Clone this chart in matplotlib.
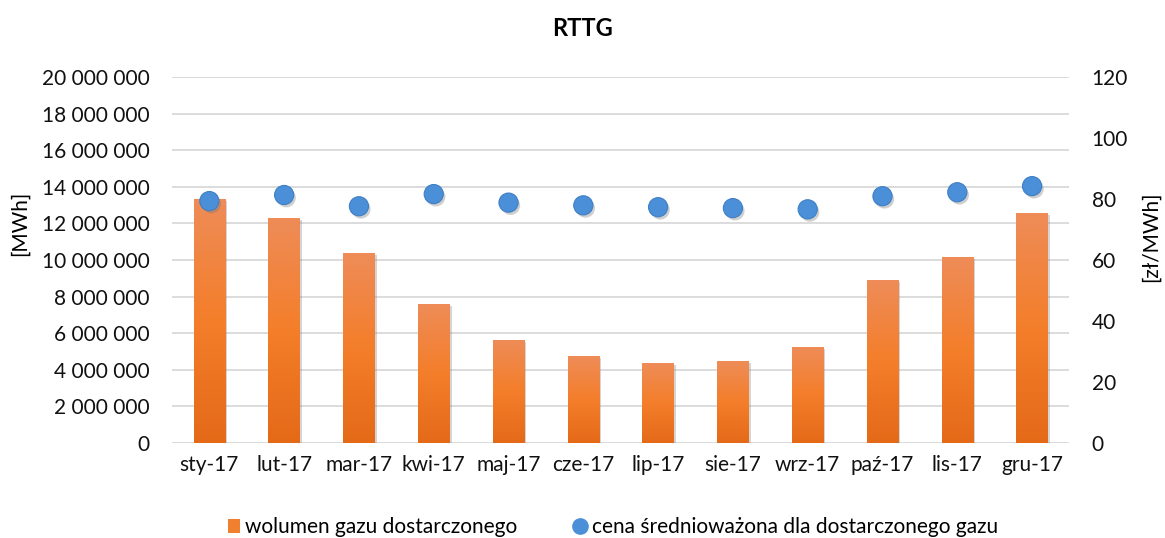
import matplotlib as mpl
mpl.use("Agg")
import matplotlib.pyplot as plt
import matplotlib.patheffects as pe
import numpy as np
from matplotlib.colors import LinearSegmentedColormap
from matplotlib.lines import Line2D
from matplotlib.patches import Patch

plt.rcParams['font.family'] = ['Lato', 'DejaVu Sans']

months = ["sty-17", "lut-17", "mar-17", "kwi-17", "maj-17", "cze-17",
          "lip-17", "sie-17", "wrz-17", "paź-17", "lis-17", "gru-17"]
volume = [13330000, 12300000, 10380000, 7600000, 5630000, 4750000,
          4370000, 4480000, 5250000, 8900000, 10160000, 12570000]
price = [79.3, 81.3, 77.6, 81.6, 78.8, 77.9, 77.3, 77.0, 76.6, 80.9, 82.2, 84.2]

FS = 15

fig = plt.figure(figsize=(11.65, 5.38), dpi=100)
ax = fig.add_axes([0.1476, 0.1766, 0.7704, 0.6804])
ax2 = ax.twinx()

x = np.arange(len(months))
shadow = [pe.SimplePatchShadow(offset=(1.5, -1.5), shadow_rgbFace="#888888", alpha=0.35), pe.Normal()]
bars = ax.bar(x, volume, width=0.42, color="#ED7D31", zorder=2)

# vertical gradient inside each bar
cmap = LinearSegmentedColormap.from_list("org", ["#E46A18", "#F47E2A", "#EE8C58"])
grad = np.linspace(0, 1, 256).reshape(-1, 1)
for b in bars:
    b.set_path_effects(shadow)
    bx, by, bw, bh = b.get_x(), b.get_y(), b.get_width(), b.get_height()
    im = ax.imshow(grad, cmap=cmap, origin="lower", aspect="auto",
                   extent=[bx, bx + bw, by, by + bh], zorder=3)
    im.set_clip_path(b)

ax.set_xlim(-0.5, len(months) - 0.5)
ax.set_ylim(0, 20000000)
ax.set_yticks(np.arange(0, 20000001, 2000000))
ax.set_yticklabels([f"{int(v):,}".replace(",", " ") for v in np.arange(0, 20000001, 2000000)])
ax.set_xticks(x)
ax.set_xticklabels(months)
ax.grid(axis="y", color="#D9D9D9", linewidth=1.3, zorder=0)
ax.set_axisbelow(True)

dots = ax2.scatter(x, price, s=190, color="#4A8FD8", edgecolors="#3F7FC4", linewidths=0.8, zorder=5)
dots.set_path_effects([pe.SimplePatchShadow(offset=(1.5, -2), shadow_rgbFace="#777777", alpha=0.35), pe.Normal()])
ax2.set_ylim(0, 120)
ax2.set_yticks(np.arange(0, 121, 20))

for a in (ax, ax2):
    for s in a.spines.values():
        s.set_visible(False)
    a.tick_params(length=0, labelsize=FS, colors="#111111", pad=16)
ax.tick_params(axis="x", pad=9)

ax.set_ylabel("[MWh]", fontsize=FS)
ax.yaxis.set_label_coords(-0.158, 0.60)
ax2.set_ylabel("[zł/MWh]", fontsize=FS)
ax2.yaxis.set_label_coords(1.079, 0.563)
fig.text(0.5, 0.947, "RTTG", ha="center", va="center", fontsize=17, fontweight="bold")

handles = [Patch(facecolor="#F07F2F", edgecolor="none"),
           Line2D([], [], marker="o", linestyle="none", markersize=11,
                  markerfacecolor="#4A8FD8", markeredgecolor="#4A8FD8")]
fig.legend(handles, ["wolumen gazu dostarczonego", "cena średnioważona dla dostarczonego gazu"],
           loc="center", bbox_to_anchor=(0.526, 0.02), ncol=2, frameon=False,
           fontsize=FS, handlelength=0.6, handletextpad=0.25, columnspacing=2.7)

fig.savefig("out.png", dpi=100)
